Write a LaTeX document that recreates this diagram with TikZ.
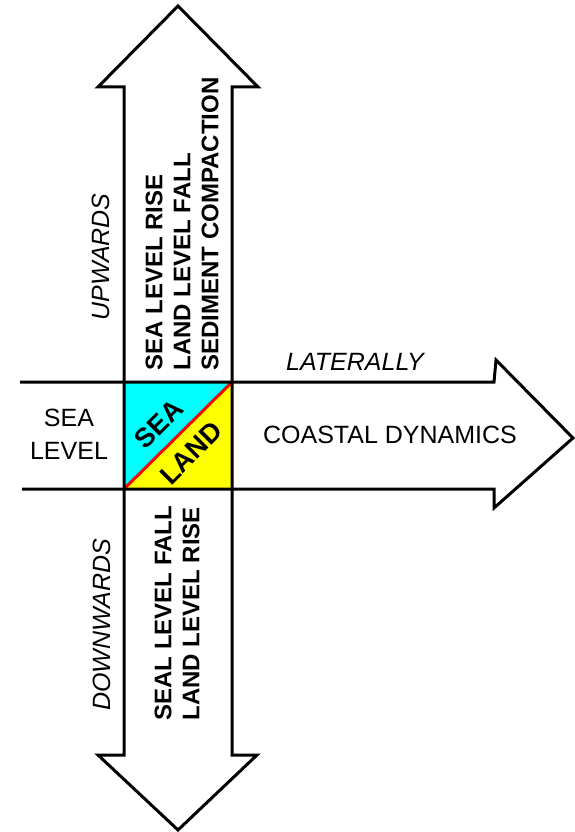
\documentclass[tikz,border=0pt]{standalone}
\usepackage{fontspec}
\setmainfont{Liberation Sans}
\usepackage{tikz}
\definecolor{seacol}{RGB}{0,255,255}
\definecolor{landcol}{RGB}{255,255,0}
\definecolor{edgecol}{RGB}{255,0,0}

\begin{document}
\begin{tikzpicture}[x=1pt, y=-1pt, line width=3pt,
  every node/.style={inner sep=0pt},
  plain/.style={font=\fontsize{25}{33}\selectfont},
  slant/.style={font=\fontsize{25}{30}\selectfont\itshape},
  heavy/.style={font=\fontsize{24}{28}\selectfont\bfseries, align=left},
  tag/.style={font=\fontsize{27}{30}\selectfont\bfseries, rotate=45}]
  \useasboundingbox (0,0) rectangle (575,832);
  % the sea / land square
  \coordinate (sw) at (124,489);
  \coordinate (ne) at (232,382);
  \fill[seacol] (sw) -- (124,382) -- (ne) -- cycle;
  \fill[landcol] (sw) -- (232,489) -- (ne) -- cycle;
  \draw[edgecol] (sw) -- (ne);
  % vertical double arrow
  \draw[line join=miter] (124,87) -- (98,87) -- (178,6) -- (258,87) -- (232,87)
    -- (232,755) -- (257,755) -- (178,830) -- (98,755) -- (124,755) -- cycle;
  % horizontal arrow
  \draw[line join=miter] (20,382) -- (494,382) -- (496,360) -- (573,438)
    -- (494,508) -- (494,489) -- (22,489);
  \node[plain, align=center] (level) at (69,434) {SEA\\LEVEL};
  \node[plain] (coast) at (390,435) {COASTAL DYNAMICS};
  \node[slant] (lat) at (355,362) {LATERALLY};
  \node[slant, rotate=90] (up) at (101,257) {UPWARDS};
  \node[slant, rotate=90] (down) at (102,625) {DOWNWARDS};
  \node[heavy, rotate=90, anchor=west] (rise) at (182,372)
    {SEA LEVEL RISE\\LAND LEVEL FALL\\SEDIMENT COMPACTION};
  \node[heavy, rotate=90, anchor=west] (fall) at (177,722)
    {SEAL LEVEL FALL\\LAND LEVEL RISE};
  \node[tag] (sea) at (159,424) {SEA};
  \node[tag] (land) at (191,453) {LAND};
\end{tikzpicture}
\end{document}
